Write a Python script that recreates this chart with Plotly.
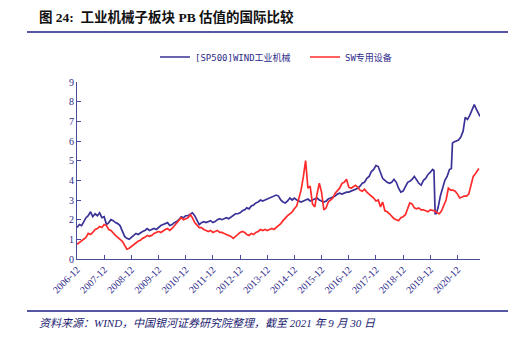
import plotly.graph_objects as go

blue_dates = ["2006-12-01","2007-01-01","2007-02-01","2007-03-01","2007-04-01","2007-05-01","2007-06-01","2007-07-01","2007-08-01","2007-09-01","2007-10-01","2007-11-01","2007-12-01",
"2008-01-01","2008-02-01","2008-03-01","2008-04-01","2008-05-01","2008-06-01","2008-07-01","2008-08-01","2008-09-01","2008-10-01","2008-11-01","2008-12-01",
"2009-01-01","2009-02-01","2009-03-01","2009-04-01","2009-05-01","2009-06-01","2009-07-01","2009-08-01","2009-09-01","2009-10-01","2009-11-01","2009-12-01",
"2010-01-01","2010-02-01","2010-03-01","2010-04-01","2010-05-01","2010-06-01","2010-07-01","2010-08-01","2010-09-01","2010-10-01","2010-11-01","2010-12-01",
"2011-01-01","2011-02-01","2011-03-01","2011-04-01","2011-05-01","2011-06-01","2011-07-01","2011-08-01","2011-09-01","2011-10-01","2011-11-01","2011-12-01",
"2012-01-01","2012-02-01","2012-03-01","2012-04-01","2012-05-01","2012-06-01","2012-07-01","2012-08-01","2012-09-01","2012-10-01","2012-11-01","2012-12-01",
"2013-01-01","2013-02-01","2013-03-01","2013-04-01","2013-05-01","2013-06-01","2013-07-01","2013-08-01","2013-09-01","2013-10-01","2013-11-01","2013-12-01",
"2014-01-01","2014-02-01","2014-03-01","2014-04-01","2014-05-01","2014-06-01","2014-07-01","2014-08-01","2014-09-01","2014-10-01","2014-11-01","2014-12-01",
"2015-01-01","2015-02-01","2015-03-01","2015-04-01","2015-05-01","2015-06-01","2015-07-01","2015-08-01","2015-09-01","2015-10-01","2015-11-01","2015-12-01",
"2016-01-01","2016-02-01","2016-03-01","2016-04-01","2016-05-01","2016-06-01","2016-07-01","2016-08-01","2016-09-01","2016-10-01","2016-11-01","2016-12-01",
"2017-01-01","2017-02-01","2017-03-01","2017-04-01","2017-05-01","2017-06-01","2017-07-01","2017-08-01","2017-09-01","2017-10-01","2017-11-01","2017-12-01",
"2018-01-01","2018-02-01","2018-03-01","2018-04-01","2018-05-01","2018-06-01","2018-07-01","2018-08-01","2018-09-01","2018-10-01","2018-11-01","2018-12-01",
"2019-01-01","2019-02-01","2019-03-01","2019-04-01","2019-05-01","2019-06-01","2019-07-01","2019-08-01","2019-09-01","2019-10-01","2019-11-01","2019-12-01",
"2020-01-01","2020-01-20","2020-02-05","2020-02-20","2020-03-15","2020-04-15","2020-05-15","2020-06-15","2020-07-15","2020-08-15","2020-09-10","2020-09-25","2020-10-15","2020-11-15","2020-12-15",
"2021-01-15","2021-02-15","2021-03-15","2021-04-15","2021-05-15","2021-06-15","2021-07-15","2021-08-15","2021-09-30"]
blue_vals = [1.6,1.75,1.7,1.9,2.1,2.2,2.4,2.15,2.3,2.2,2.35,2.1,2.15,
1.75,1.85,2.0,1.95,1.85,1.8,1.7,1.45,1.15,1.05,1.0,1.1,
1.2,1.3,1.25,1.35,1.4,1.45,1.55,1.45,1.5,1.55,1.5,1.6,
1.7,1.75,1.8,1.85,1.7,1.75,1.85,1.9,2.0,2.15,2.1,2.2,
2.2,2.3,2.35,2.2,2.0,1.75,1.85,1.9,1.85,1.9,1.95,1.85,
1.9,2.0,2.05,2.0,2.05,2.1,2.05,2.15,2.2,2.3,2.3,2.35,
2.45,2.5,2.6,2.55,2.7,2.75,2.85,2.9,3.0,2.95,3.0,3.05,
3.1,3.15,3.2,3.25,3.2,3.0,2.9,2.85,2.95,3.1,3.0,3.1,
3.0,2.95,2.9,2.95,3.0,3.05,2.95,3.0,3.05,3.1,3.0,2.95,
2.9,2.95,3.05,3.1,3.15,3.2,3.3,3.35,3.3,3.35,3.4,3.4,
3.45,3.5,3.55,3.6,3.7,3.85,3.9,4.1,4.2,4.45,4.55,4.75,
4.7,4.4,4.1,4.0,3.9,3.85,3.9,4.05,3.9,3.6,3.4,3.45,
3.7,3.9,3.95,4.05,4.2,4.0,3.85,3.75,4.0,4.1,4.3,4.4,
4.55,4.5,2.3,2.3,2.6,3.2,3.6,4.0,4.2,4.55,4.6,5.9,5.95,6.0,6.05,
6.2,6.5,7.2,7.1,7.3,7.6,7.85,7.6,7.25]

red_dates = blue_dates[:157] + ["2020-02-01","2020-03-01","2020-04-01","2020-05-01","2020-06-01","2020-07-01","2020-08-01","2020-09-01","2020-10-01","2020-11-01","2020-12-01",
"2021-01-01","2021-02-01","2021-03-01","2021-04-01","2021-05-01","2021-06-01","2021-07-01","2021-08-01","2021-09-15"]
red_vals = [0.75,0.85,0.95,1.0,1.1,1.3,1.25,1.35,1.5,1.55,1.65,1.6,1.75,
1.7,1.5,1.45,1.3,1.2,1.1,1.0,0.9,0.7,0.5,0.55,0.65,
0.75,0.85,0.9,0.95,1.05,1.1,1.2,1.15,1.2,1.3,1.35,1.4,
1.35,1.45,1.5,1.55,1.45,1.55,1.7,1.85,2.0,2.1,2.0,2.05,
2.1,2.25,2.1,1.85,1.7,1.6,1.6,1.5,1.45,1.4,1.45,1.35,
1.4,1.45,1.35,1.35,1.3,1.25,1.2,1.15,1.05,1.15,1.25,1.35,
1.4,1.35,1.25,1.2,1.3,1.25,1.35,1.4,1.5,1.45,1.5,1.45,
1.5,1.55,1.5,1.6,1.7,1.8,1.95,2.1,2.2,2.3,2.4,2.55,
2.7,3.1,3.5,4.2,5.0,3.6,3.7,2.8,2.65,3.3,3.85,3.4,
2.5,2.6,2.9,3.0,3.1,3.35,3.5,3.6,3.85,3.9,4.05,3.65,
3.6,3.7,3.75,3.65,3.5,3.45,3.55,3.4,3.3,3.2,3.1,2.95,
3.0,2.65,2.9,2.45,2.4,2.3,2.15,2.05,2.0,1.95,2.1,2.15,
2.25,2.6,2.85,2.8,2.6,2.55,2.6,2.5,2.5,2.45,2.4,2.5,
2.45,2.35,2.3,2.45,2.7,3.0,3.6,3.5,3.5,3.45,3.3,3.1,
3.15,3.2,3.2,3.3,3.75,4.2,4.35,4.6,4.8]

tick_vals = ["%d-12-01" % y for y in range(2006, 2021)]
tick_text = ["%d-12" % y for y in range(2006, 2021)]
series_names = ["[SP500]WIND工业机械", "SW专用设备"]

NAVY = "#2e2a8a"
fig = go.Figure()
fig.add_trace(go.Scatter(x=blue_dates, y=blue_vals, mode="lines", name=series_names[0],
                         line=dict(color="#3a3296", width=1.7)))
fig.add_trace(go.Scatter(x=red_dates, y=red_vals, mode="lines", name=series_names[1],
                         line=dict(color="#ff2b2b", width=1.7)))

fig.update_layout(
    width=531, height=338,
    margin=dict(l=77, r=51, t=82, b=79),
    paper_bgcolor="white", plot_bgcolor="white",
    showlegend=True,
    legend=dict(orientation="h", x=(155-77)/403, xanchor="left", y=1 + (82-57)/177, yanchor="middle",
                entrywidth=105, entrywidthmode="pixels", itemwidth=30,
                font=dict(family="DejaVu Sans Mono, Noto Sans CJK SC", size=9, color=NAVY),
                bgcolor="rgba(0,0,0,0)"),
    xaxis=dict(type="date", range=["2006-12-01", "2021-09-30"], tickvals=tick_vals, ticktext=tick_text,
               tickangle=-45, showline=True, linecolor="#4a4a9a", linewidth=1, ticks="inside",
               ticklen=4, tickcolor="#4a4a9a", showgrid=False, zeroline=False,
               tickfont=dict(family="Liberation Serif", size=10, color=NAVY)),
    yaxis=dict(range=[0, 9], dtick=1, showline=True, linecolor="#4a4a9a", linewidth=1, ticks="inside",
               ticklen=4, tickcolor="#4a4a9a", showgrid=False, zeroline=False,
               tickfont=dict(family="Liberation Serif", size=10, color=NAVY)),
    shapes=[
        dict(type="line", xref="paper", yref="paper", x0=(27-77)/403, x1=(508-77)/403,
             y0=(259-32)/177, y1=(259-32)/177, line=dict(color="#1e1e86", width=1.5)),
        dict(type="line", xref="paper", yref="paper", x0=(27-77)/403, x1=(508-77)/403,
             y0=(259-311)/177, y1=(259-311)/177, line=dict(color="#1e1e86", width=1.5)),
    ],
    annotations=[
        dict(text="<b>图 24:  工业机械子板块 PB 估值的国际比较</b>", xref="paper", yref="paper",
             x=(37-77)/403, y=(259-17)/177, xanchor="left", yanchor="middle", showarrow=False,
             font=dict(family="Liberation Serif, Noto Sans CJK SC", size=13.5, color="#111111")),
        dict(text="<i>资料来源：WIND，中国银河证券研究院整理，截至 2021 年 9 月 30 日</i>", xref="paper", yref="paper",
             x=(37-77)/403, y=(259-323)/177, xanchor="left", yanchor="middle", showarrow=False,
             font=dict(family="Liberation Serif, Noto Sans CJK SC", size=11, color="#1c1c70")),
    ],
)

fig.write_html("out.html")
